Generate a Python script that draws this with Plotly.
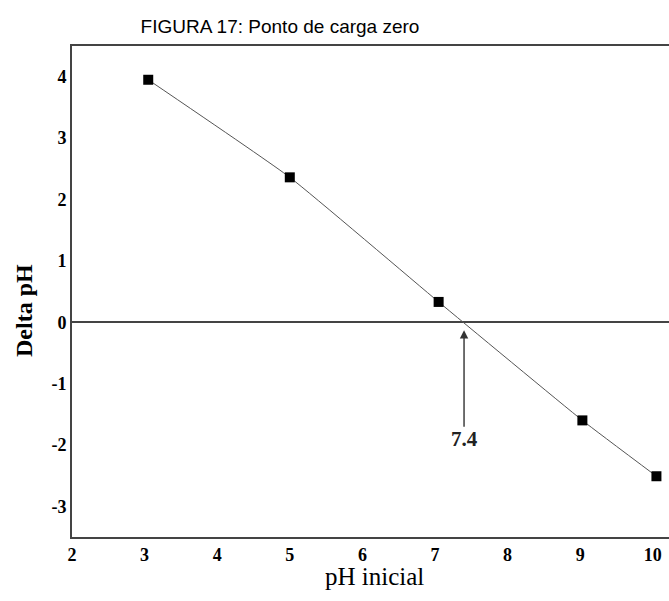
import plotly.graph_objects as go

# Initial pH vs. change in pH (point of zero charge)
ph_inicial = [3.05, 5.0, 7.05, 9.03, 10.05]
delta_ph = [3.95, 2.36, 0.33, -1.6, -2.51]
pcz_valor = 7.4
x_ticks = [2, 3, 4, 5, 6, 7, 8, 9, 10]
y_ticks = [-3, -2, -1, 0, 1, 2, 3, 4]

W, H = 669, 601
ML, MR, MT, MB = 72, 0, 46, 64

fig = go.Figure()
fig.add_trace(go.Scatter(
    x=ph_inicial, y=delta_ph, mode="lines+markers",
    line=dict(color="#555555", width=1, shape="spline", smoothing=0.4),
    marker=dict(symbol="square", size=10, color="black"),
    showlegend=False, cliponaxis=False,
))

serif = "Liberation Serif, Times New Roman, serif"
tick_font = dict(family=serif, size=18, color="black")
axis_col = "#444444"

fig.update_xaxes(
    range=[2, 2 + (W - ML) / 72.6], tickvals=x_ticks,
    ticktext=[f"<b>{v}</b>" for v in x_ticks],
    showline=True, linecolor=axis_col, linewidth=2, mirror=True,
    showgrid=False, zeroline=False, ticks="", tickfont=tick_font, ticklabelstandoff=0,
)
fig.update_yaxes(
    range=[-3.5, 4.5], tickvals=y_ticks,
    ticktext=[f"<b>{v}</b>" for v in y_ticks],
    showline=True, linecolor=axis_col, linewidth=2, mirror=False,
    showgrid=False, zeroline=True, zerolinecolor=axis_col, zerolinewidth=2,
    ticks="", tickfont=tick_font, ticklabelstandoff=0,
)

# Arrow marking the point of zero charge
fig.add_annotation(
    x=pcz_valor, y=-0.13, ax=pcz_valor, ay=-1.73, xref="x", yref="y",
    axref="x", ayref="y", text="", showarrow=True,
    arrowhead=2, arrowsize=1.2, arrowwidth=1.4, arrowcolor="#333333",
)
fig.add_annotation(
    x=pcz_valor, y=-1.9, xref="x", yref="y", text=f"<b>{pcz_valor}</b>",
    showarrow=False, font=dict(family=serif, size=21, color="#222222"),
)

# Axis titles
fig.add_annotation(
    x=(24 - ML) / (W - ML), y=(H - MB - 311) / (H - MT - MB), xref="paper", yref="paper",
    xanchor="center", yanchor="middle",
    text="<b>Delta pH</b>", textangle=-90, showarrow=False,
    font=dict(family=serif, size=24, color="black"),
)
fig.add_annotation(
    x=(374 - ML) / (W - ML), y=(H - MB - 576) / (H - MT - MB), xref="paper", yref="paper",
    xanchor="center", yanchor="middle",
    text="pH inicial", showarrow=False,
    font=dict(family=serif, size=25, color="black"),
)

fig.update_layout(
    width=W, height=H,
    margin=dict(l=ML, r=MR, t=MT, b=MB),
    paper_bgcolor="white", plot_bgcolor="white",
    title=dict(
        text="FIGURA 17: Ponto de carga zero", x=280 / W, xanchor="center",
        y=1 - 26 / H, yanchor="middle", xref="container",
        font=dict(family="Liberation Sans, Arial, sans-serif", size=19, color="black"),
    ),
)

fig.write_html("out.html")
